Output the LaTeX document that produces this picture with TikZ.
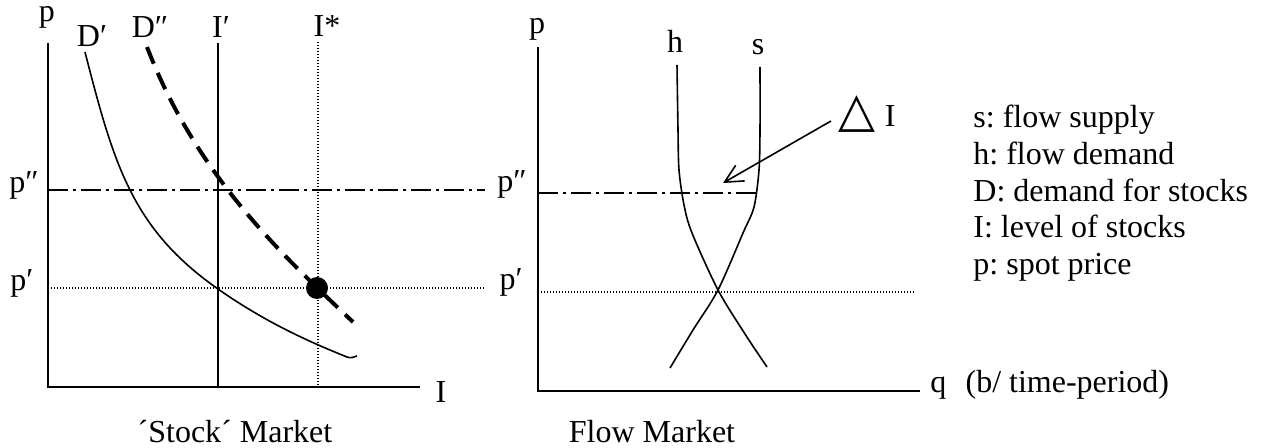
\documentclass[tikz,border=0pt]{standalone}
\usepackage{fontspec}
\setmainfont{Liberation Serif}
\newfontfamily\symfont{DejaVu Sans}
\usetikzlibrary{arrows.meta}
\frenchspacing
\begin{document}
\begin{tikzpicture}[x=0.5pt,y=-0.5pt, font=\fontsize{16}{19}\selectfont,
 axis/.style={line width=1pt},
 curve/.style={line width=0.8pt},
 dashdot/.style={line width=0.8pt, dash pattern=on 10pt off 2.5pt on 1.5pt off 2.5pt},
 dotline/.style={line width=0.6pt, dash pattern=on 0.6pt off 0.9pt},
 thickdash/.style={line width=2pt, dash pattern=on 9pt off 5pt},
 lbl/.style={inner sep=0pt, anchor=base}]
\useasboundingbox (0,0) rectangle (1262,448);
% ---------- left panel: stock market ----------
\coordinate (LO) at (48,387);
\coordinate (LY) at (48,43);
\coordinate (LX) at (420,387);
\draw[axis] (LY) -- (LO) -- (LX);
\coordinate (Ipt) at (218,43);
\coordinate (Ipb) at (218,387);
\draw[curve] (Ipt) -- (Ipb);
\coordinate (Ist) at (318,42);
\coordinate (Isb) at (318,387);
\draw[dotline] (Ist) -- (Isb);
\coordinate (Lpp1) at (48,190);
\coordinate (Lpp2) at (485,190);
\draw[dashdot] (Lpp1) -- (Lpp2);
\coordinate (Lp1) at (48,288);
\coordinate (Lp2) at (485,288);
\draw[dotline] (Lp1) -- (Lp2);
\coordinate (d1a) at (85,52);
\coordinate (d1b) at (218,289);
\coordinate (d1c) at (347,357);
\coordinate (d1d) at (357,356);
\draw[curve] (d1a) .. controls (113.8,164.3) and (131.9,228.7) .. (d1b)
  .. controls (262,319.8) and (303,339.4) .. (d1c)
  .. controls (351,358.6) and (354,357) .. (d1d);
\coordinate (d2a) at (147,47);
\coordinate (d2b) at (353,322);
\draw[thickdash] (d2a) .. controls (197,177) and (283,255.5) .. (d2b);
\node[circle, fill=black, inner sep=0pt, minimum size=11pt] (eq) at (317,288) {};
\node[lbl] (lp) at (47,22) {p};
\node[lbl] (ld1) at (92,47) {D′};
\node[lbl] (ld2) at (150,38) {D″};
\node[lbl] (li1) at (221,38) {I′};
\node[lbl] (li2) at (327,37) {I*};
\node[lbl] (lpp) at (24,193) {p″};
\node[lbl] (lpv) at (22,291) {p′};
\node[lbl] (lI) at (441,402) {I};
\node[lbl] (lt) at (235,442) {´Stock´ Market};
% ---------- right panel: flow market ----------
\coordinate (RO) at (538,391);
\coordinate (RY) at (538,47);
\coordinate (RX) at (920,391);
\draw[axis] (RY) -- (RO) -- (RX);
\coordinate (Rpp1) at (538,193);
\coordinate (Rpp2) at (758,193);
\draw[dashdot] (Rpp1) -- (Rpp2);
\coordinate (Rp1) at (538,292);
\coordinate (Rp2) at (915,292);
\draw[dotline] (Rp1) -- (Rp2);
\draw[curve] plot[smooth, tension=0.5] coordinates {(677,65) (678,130) (679,170) (684,205) (692,233) (718,290) (745,334) (767,367)};
\draw[curve] plot[smooth, tension=0.5] coordinates {(760,67) (760,130) (759,170) (754,207) (743,233) (718,290) (693,330) (670,368)};
\node[lbl] (rp) at (537,34) {p};
\node[lbl] (rh) at (675,53) {h};
\node[lbl] (rs) at (758,55) {s};
\node[lbl] (rpp) at (512,192) {p″};
\node[lbl] (rpv) at (511,290) {p′};
\node[lbl, anchor=base west] (rq) at (930,392) {q\hspace{0.6em}(b/ time-period)};
\node[lbl] (rt) at (652,442) {Flow Market};
\node[lbl, anchor=base west] (dI) at (838,127) {{\symfont\fontsize{24}{24}\selectfont △}\hspace{0.3em}I};
\coordinate (as) at (831,121);
\coordinate (ae) at (723,183);
\draw[curve, -{Straight Barb[length=9pt,width=9pt]}] (as) -- (ae);
% ---------- legend ----------
\node[lbl, anchor=base west] (g1) at (973,128) {s: flow supply};
\node[lbl, anchor=base west] (g2) at (973,165) {h: flow demand};
\node[lbl, anchor=base west] (g3) at (973,202) {D: demand for stocks};
\node[lbl, anchor=base west] (g4) at (973,238) {I: level of stocks};
\node[lbl, anchor=base west] (g5) at (973,275) {p: spot price};
\end{tikzpicture}
\end{document}
